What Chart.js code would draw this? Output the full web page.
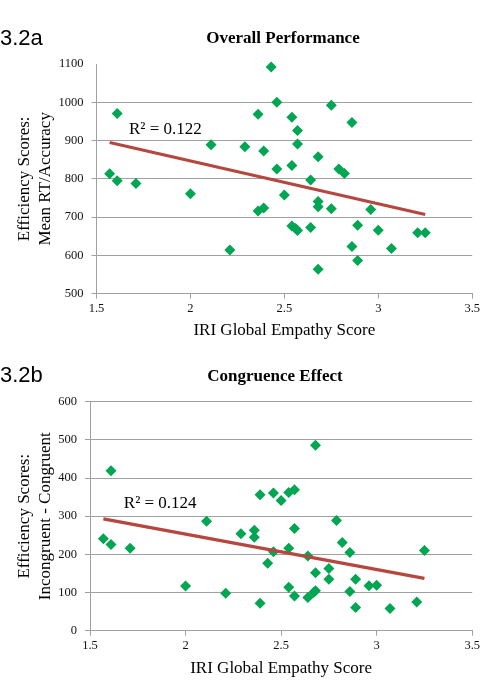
<!DOCTYPE html>
<html>
<head>
<meta charset="utf-8">
<script src="https://cdn.jsdelivr.net/npm/chart.js@4.4.1/dist/chart.umd.min.js"></script>
<style>
  html, body { margin: 0; padding: 0; background: #fff; }
  .panel { position: absolute; left: 0; width: 483px; height: 340px; }
</style>
</head>
<body>
<div class="panel" style="top:0"><canvas id="chartA" width="483" height="340"></canvas></div>
<div class="panel" style="top:340px"><canvas id="chartB" width="483" height="340"></canvas></div>
<script>
// 3.2a - Overall Performance
const empathyA = [2.43, 2.46, 2.75, 1.61, 2.36, 2.54, 2.86, 2.57, 2.57, 2.11, 2.29, 2.39, 2.68, 2.54,
  2.46, 2.79, 2.82, 1.57, 1.61, 2.64, 1.71, 2.00, 2.50, 2.68, 2.68, 2.39, 2.36, 2.75, 2.96, 2.54,
  2.56, 2.57, 2.64, 2.89, 3.00, 3.21, 3.25, 2.21, 2.86, 3.07, 2.89, 2.68];
const overallRT = [1092, 1000, 992, 971, 969, 961, 947, 926, 891, 889, 884, 873, 858, 835,
  826, 826, 814, 813, 795, 797, 788, 761, 758, 741, 727, 724, 716, 722, 720, 677,
  670, 665, 673, 679, 666, 659, 659, 614, 623, 618, 587, 564];
const trendAx = [1.57, 3.25];
const trendAy = [895, 707];

// 3.2b - Congruence Effect
const empathyB = [2.68, 1.61, 2.57, 2.54, 2.46, 2.39, 2.50, 2.11, 2.79, 2.57, 2.36, 2.29, 2.36, 1.57,
  1.61, 2.82, 1.71, 2.54, 3.25, 2.46, 2.86, 2.64, 2.43, 2.75, 2.68, 2.75, 2.89, 2.00, 2.96, 3.00,
  2.54, 2.86, 2.67, 2.68, 2.21, 2.57, 2.64, 2.39, 3.21, 2.89, 3.07];
const congruence = [486, 419, 369, 362, 361, 356, 341, 287, 289, 268, 263, 254, 245, 241,
  226, 231, 216, 216, 210, 207, 205, 196, 177, 163, 152, 135, 135, 117, 118, 119,
  114, 103, 100, 105, 98, 91, 87, 72, 75, 61, 58];
const trendBx = [1.57, 3.25];
const trendBy = [293, 137];

const xRange = [1.5, 3.5, 0.5];
const yRangeA = [500, 1100, 100];
const yRangeB = [0, 600, 100];

const SERIF = '"Liberation Serif", "Times New Roman", serif';
const GRID = '#a0a0a0';

// draws the panel tag, the chart title and the R² note
const panelText = {
  id: 'panelText',
  afterDraw(chart, args, o) {
    const ctx = chart.ctx;
    ctx.save();
    ctx.fillStyle = '#000';
    ctx.font = '22px "Liberation Sans", Arial, sans-serif';
    ctx.textAlign = 'left';
    ctx.textBaseline = 'alphabetic';
    ctx.fillText(o.tag, 0, o.tagY);
    ctx.font = 'bold 17px ' + SERIF;
    ctx.textAlign = 'center';
    ctx.textBaseline = 'middle';
    ctx.fillText(o.title, o.titleX, o.titleY);
    ctx.font = '17px ' + SERIF;
    ctx.textAlign = 'left';
    ctx.fillText(o.r2, chart.scales.x.getPixelForValue(o.r2At[0]), chart.scales.y.getPixelForValue(o.r2At[1]));
    ctx.restore();
  }
};

function pts(xs, ys) { return xs.map((x, i) => ({ x: x, y: ys[i] })); }
const plain = (v) => String(Math.round(v * 100) / 100);

function makeChart(id, c) {
  return new Chart(document.getElementById(id), {
    type: 'scatter',
    data: {
      datasets: [
        { type: 'line', data: pts(c.tx, c.ty), borderColor: '#b5473f', borderWidth: 3.2,
          pointRadius: 0, fill: false, tension: 0 },
        { data: pts(c.xs, c.ys), pointStyle: 'rectRot', pointRadius: 5.5,
          backgroundColor: '#00a651', borderWidth: 0, clip: false }
      ]
    },
    options: {
      responsive: false,
      animation: false,
      devicePixelRatio: 1,
      layout: { padding: { top: c.top, right: 9.7, left: 0, bottom: 0 } },
      plugins: {
        legend: { display: false },
        tooltip: { enabled: false },
        panelText: c.text
      },
      scales: {
        x: {
          type: 'linear', min: xRange[0], max: xRange[1],
          ticks: { stepSize: xRange[2], color: '#111', padding: 3, callback: plain,
            font: { family: SERIF, size: 12.5 } },
          grid: { drawOnChartArea: false, tickLength: 5, color: GRID },
          border: { color: GRID },
          title: { display: true, text: 'IRI Global Empathy Score', color: '#000',
            font: { family: SERIF, size: 17, lineHeight: 1.15 }, padding: { top: 0, bottom: c.xTitlePad } },
          afterFit(s) { s.height = c.xHeight; }
        },
        y: {
          min: c.yr[0], max: c.yr[1],
          ticks: { stepSize: c.yr[2], color: '#111', padding: 8, callback: plain,
            font: { family: SERIF, size: 12.5 } },
          grid: { tickLength: 5, color: (ctx) => (c.hideTop && ctx.tick && ctx.tick.value === c.yr[1]) ? 'rgba(0,0,0,0)' : GRID },
          border: { color: GRID },
          title: { display: true, text: c.yTitle, color: '#000',
            font: { family: SERIF, size: 17, lineHeight: 1.18 }, padding: { top: 15, bottom: 0 } },
          afterFit(s) { s.width = c.yWidth; }
        }
      }
    },
    plugins: [panelText]
  });
}

makeChart('chartA', {
  xs: empathyA, ys: overallRT, tx: trendAx, ty: trendAy, yr: yRangeA, hideTop: true,
  top: 64, yWidth: 96.5, xHeight: 46.3, xTitlePad: 0,
  yTitle: ['Efficiency Scores:', 'Mean RT/Accuracy'],
  text: { tag: '3.2a', tagY: 45, title: 'Overall Performance', titleX: 283, titleY: 39,
    r2: 'R\u00B2 = 0.122', r2At: [1.673, 929] }
});

makeChart('chartB', {
  xs: empathyB, ys: congruence, tx: trendBx, ty: trendBy, yr: yRangeB, hideTop: false,
  top: 61.7, yWidth: 90, xHeight: 49.3, xTitlePad: 1.4,
  yTitle: ['Efficiency Scores:', 'Incongruent - Congruent'],
  text: { tag: '3.2b', tagY: 42, title: 'Congruence Effect', titleX: 275, titleY: 37,
    r2: 'R\u00B2 = 0.124', r2At: [1.677, 332] }
});
</script>
</body>
</html>
